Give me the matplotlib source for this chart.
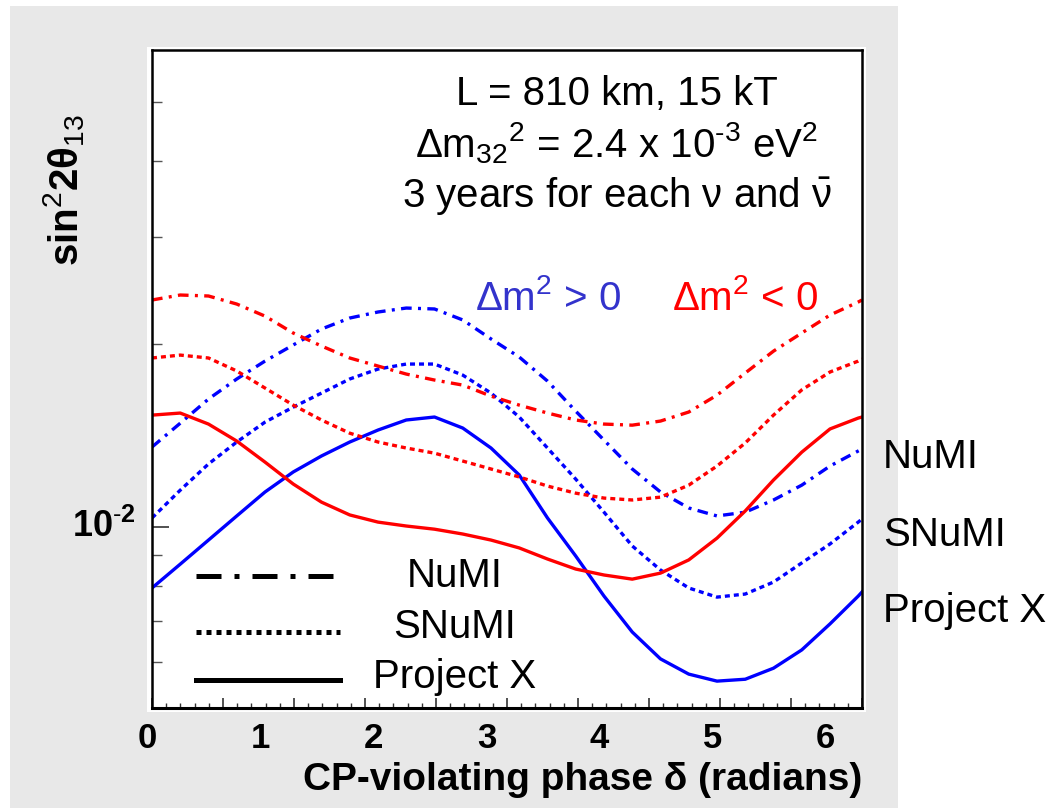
import numpy as np
import matplotlib
matplotlib.use('Agg')
import matplotlib.pyplot as plt
from matplotlib.lines import Line2D
from matplotlib.patches import Rectangle
from matplotlib.ticker import FixedLocator, NullFormatter

plt.rcParams['font.family'] = ['Liberation Sans', 'DejaVu Sans']
plt.rcParams['mathtext.fontset'] = 'custom'
plt.rcParams['mathtext.rm'] = 'Liberation Sans'
plt.rcParams['mathtext.it'] = 'Liberation Sans:italic'
plt.rcParams['mathtext.bf'] = 'Liberation Sans:bold'

# CP phase (radians) where the curves were read
delta = [0, 0.25, 0.5, 0.75, 1.0, 1.25, 1.5, 1.75, 2.0, 2.25, 2.5, 2.75, 3.0,
         3.25, 3.5, 3.75, 4.0, 4.25, 4.5, 4.75, 5.0, 5.25, 5.5, 5.75, 6.0, 6.25, 2 * np.pi]

# sin^2 2theta13 sensitivity, normal hierarchy (dm2 > 0)
numi_pos = [0.01354, 0.01482, 0.01624, 0.01752, 0.01875, 0.01993, 0.02117, 0.02207, 0.02258,
            0.02292, 0.02284, 0.02191, 0.02039, 0.01904, 0.01738, 0.01551, 0.01390, 0.01246,
            0.01142, 0.01075, 0.01043, 0.01058, 0.01108, 0.01172, 0.01260, 0.01334, 0.01344]
snumi_pos = [0.01035, 0.01150, 0.01270, 0.01380, 0.01488, 0.01575, 0.01661, 0.01752, 0.01819,
             0.01854, 0.01854, 0.01778, 0.01661, 0.01517, 0.01349, 0.01199, 0.01058, 0.00931,
             0.00850, 0.00794, 0.00767, 0.00776, 0.00812, 0.00873, 0.00938, 0.01019, 0.01031]
px_pos = [0.00794, 0.00869, 0.00952, 0.01043, 0.01142, 0.01232, 0.01309, 0.01380, 0.01444,
          0.01500, 0.01517, 0.01455, 0.01349, 0.01218, 0.01035, 0.00896, 0.00770, 0.00672,
          0.00607, 0.00573, 0.00558, 0.00562, 0.00586, 0.00628, 0.00693, 0.00770, 0.00782]

# inverted hierarchy (dm2 < 0)
numi_neg = [0.02363, 0.02408, 0.02399, 0.02327, 0.02223, 0.02085, 0.01985, 0.01897, 0.01840,
            0.01785, 0.01745, 0.01712, 0.01642, 0.01587, 0.01540, 0.01500, 0.01477, 0.01471,
            0.01494, 0.01546, 0.01648, 0.01792, 0.01947, 0.02085, 0.02232, 0.02345, 0.02363]
snumi_neg = [0.01897, 0.01918, 0.01897, 0.01806, 0.01693, 0.01587, 0.01500, 0.01427, 0.01380,
             0.01349, 0.01323, 0.01284, 0.01246, 0.01209, 0.01168, 0.01137, 0.01116, 0.01108,
             0.01120, 0.01172, 0.01260, 0.01375, 0.01528, 0.01681, 0.01799, 0.01875, 0.01890]
px_neg = [0.01528, 0.01540, 0.01477, 0.01385, 0.01279, 0.01177, 0.01099, 0.01047, 0.01019,
          0.01004, 0.00992, 0.00974, 0.00952, 0.00924, 0.00886, 0.00853, 0.00834, 0.00821,
          0.00840, 0.00883, 0.00959, 0.01063, 0.01195, 0.01328, 0.01450, 0.01511, 0.01517]

exp_names = ['NuMI', 'SNuMI', 'Project X']
xtick_labels = ['0', '1', '2', '3', '4', '5', '6']

W, H = 1059, 808
def fx(x): return x / W
def fy(y): return 1 - y / H

fig = plt.figure(figsize=(W / 100, H / 100), dpi=100)
fig.patch.set_facecolor('white')
# grey canvas and white pad, like the original pad
fig.add_artist(Rectangle((fx(10), 0), fx(898) - fx(10), fy(6), transform=fig.transFigure,
                         facecolor='#e8e8e8', edgecolor='none', zorder=-2))
fig.add_artist(Rectangle((fx(147), fy(712)), fx(866) - fx(147), fy(47) - fy(712),
                         transform=fig.transFigure, facecolor='white', edgecolor='none', zorder=-1))

ax = fig.add_axes([fx(152), fy(708), fx(862) - fx(152), fy(50) - fy(708)])
ax.set_yscale('log')
ax.set_xlim(0, 2 * np.pi)
ax.set_ylim(0.00504, 0.0609)

lw = 2.4
dashdot = (0, (3.2, 1.9, 0.9, 1.9))
dotted = (0, (1.5, 1.2))
styles = [dashdot, dotted, '-']
blue, red = '#0000ff', '#ff0000'
for ys, st in zip([numi_pos, snumi_pos, px_pos], styles):
    ax.plot(delta, ys, color=blue, lw=lw, linestyle=st, solid_joinstyle='round')
for ys, st in zip([numi_neg, snumi_neg, px_neg], styles):
    ax.plot(delta, ys, color=red, lw=lw, linestyle=st, solid_joinstyle='round')

# axes / ticks (ROOT style)
for s in ax.spines.values():
    s.set_linewidth(1.8)
ax.spines['bottom'].set_linewidth(2.2)
ax.xaxis.set_major_locator(FixedLocator(np.arange(0, 10.5) * np.pi / 5))
ax.xaxis.set_minor_locator(FixedLocator(np.arange(0, 50.5) * np.pi / 25))
ax.xaxis.set_major_formatter(NullFormatter())
ax.yaxis.set_major_locator(FixedLocator([0.01]))
ax.yaxis.set_minor_locator(FixedLocator([0.006, 0.007, 0.008, 0.009, 0.02, 0.03, 0.04, 0.05]))
ax.yaxis.set_major_formatter(NullFormatter())
ax.yaxis.set_minor_formatter(NullFormatter())
ax.tick_params(axis='x', which='major', direction='in', length=7, width=1.2, color='#333333')
ax.tick_params(axis='x', which='minor', direction='in', length=3.5, width=1.0, color='#333333')
ax.tick_params(axis='y', which='major', direction='in', length=12, width=1.2, color='#333333')
ax.tick_params(axis='y', which='minor', direction='in', length=7, width=1.0, color='#555555')

for i, lab in enumerate(xtick_labels):
    ax.text(i - 0.04, -0.022, lab, transform=ax.get_xaxis_transform(), ha='center', va='top',
            fontsize=25, fontweight='bold')
fig.text(fx(136), fy(527), '10$^{\\mathbf{\\text{-}2}}$', ha='right', va='center',
         fontsize=26, fontweight='bold')

fig.text(fx(862), fy(790), 'CP-violating phase δ (radians)', ha='right', va='baseline',
         fontsize=28, fontweight='bold')
fig.text(fx(64), fy(190), 'sin$^{2}$2θ$_{13}$', rotation=90, ha='center', va='center',
         fontsize=29, fontweight='bold')

# annotation block
fig.text(fx(617), fy(105), 'L = 810 km, 15 kT', ha='center', va='baseline', fontsize=29)
fig.text(fx(617), fy(157), 'Δm$_{32}$$^{2}$ = 2.4 x 10$^{\\text{-}3}$ eV$^{2}$', ha='center',
         va='baseline', fontsize=29)
fig.text(fx(617), fy(207), '3 years for each ν and $\\bar{\\mathregular{ν}}$', ha='center',
         va='baseline', fontsize=29)
fig.text(fx(548), fy(310), 'Δm$^{2}$ > 0', ha='center', va='baseline', fontsize=29,
         color='#3333cc')
fig.text(fx(745), fy(310), 'Δm$^{2}$ < 0', ha='center', va='baseline', fontsize=29,
         color=red)

# labels on the right
for name, yb in zip(exp_names, [468, 546, 622]):
    fig.text(fx(883), fy(yb), name, ha='left', va='baseline', fontsize=29)

# line-style key
key_styles = [(0, (5, 2.6, 1, 2.6)), (0, (1, 1)), '-']
for st, name, yl, yb in zip(key_styles, exp_names, [576, 632, 680], [587, 638, 688]):
    fig.add_artist(Line2D([fx(196), fx(340)], [fy(yl), fy(yl)], color='black', lw=3.6,
                          linestyle=st, transform=fig.transFigure))
    fig.text(fx(455), fy(yb), name, ha='center', va='baseline', fontsize=29)

fig.savefig('out.png', dpi=100)
